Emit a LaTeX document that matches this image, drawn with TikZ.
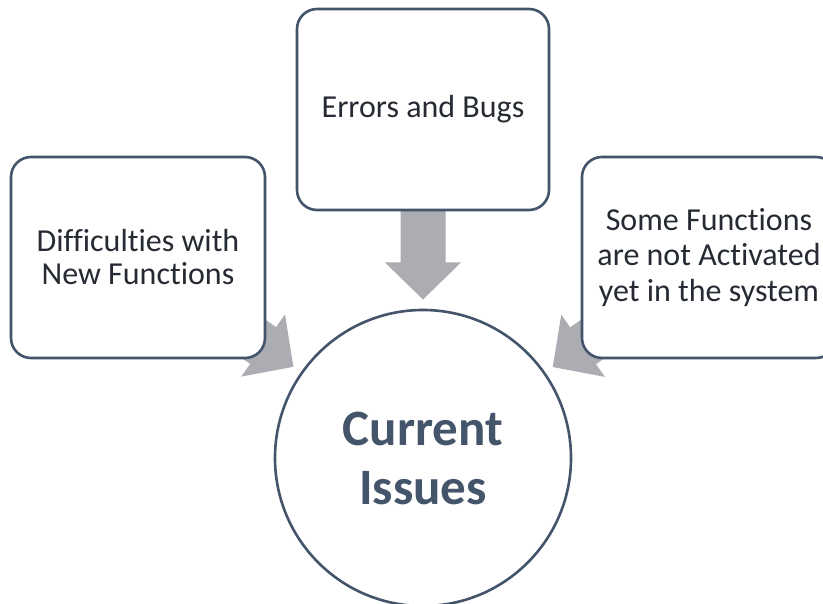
\documentclass[tikz,border=0pt]{standalone}
\usepackage{fontspec}
\setmainfont[Ligatures={NoCommon,NoContextual}]{Carlito}
\usetikzlibrary{calc}
\definecolor{edgeblue}{HTML}{44546A}
\definecolor{arrowgrey}{HTML}{ABADB3}
\definecolor{boxtext}{HTML}{262B33}
\newcommand{\blockarrow}[2]{%
  \coordinate (T) at ($(#2.center)!158.5pt!(#1.center)$);
  \coordinate (H) at ($(T)!37pt!(#1.center)$);
  \fill[arrowgrey] (T) -- ($(H)!38pt!90:(#1.center)$) -- ($(H)!22.5pt!90:(#1.center)$)
    -- ($(#1.center)!22.5pt!-90:(H)$) -- ($(#1.center)!22.5pt!90:(H)$)
    -- ($(H)!22.5pt!-90:(#1.center)$) -- ($(H)!38pt!-90:(#1.center)$) -- cycle;
}
\tikzset{
  issuebox/.style={draw=edgeblue, line width=2.6pt, fill=white, rounded corners=20pt,
    minimum width=254pt, minimum height=201pt, inner sep=0pt, align=center,
    text=boxtext, font=\fontsize{32}{33}\selectfont},
  centerdisc/.style={circle, draw=edgeblue, line width=2.6pt, fill=white,
    minimum size=296pt, inner sep=0pt, align=center, text=edgeblue,
    font=\fontsize{51}{59}\selectfont\bfseries}
}
\begin{document}
\begin{tikzpicture}[x=1pt,y=1pt]
\clip (0,0) rectangle (823,-604);
\fill[white] (0,0) rectangle (823,-604);
\coordinate (lc) at (138,-257.5);
\coordinate (tc) at (423,-109.5);
\coordinate (rc) at (709,-257.5);
\coordinate (cc) at (423,-458);
\node[centerdisc] (hub) at (cc) {Current\\Issues};
\path (lc) node[minimum size=1pt, inner sep=0pt] (lsrc) {};
\path (tc) node[minimum size=1pt, inner sep=0pt] (tsrc) {};
\path (rc) node[minimum size=1pt, inner sep=0pt] (rsrc) {};
\blockarrow{lsrc}{hub}
\blockarrow{tsrc}{hub}
\blockarrow{rsrc}{hub}
\node[issuebox] (left) at (lc) {Difficulties with\\New Functions};
\node[issuebox, minimum width=252pt] (top) at (tc) {\raisebox{-2pt}{Errors and Bugs}};
\node[issuebox, font=\fontsize{32}{35.5}\selectfont] (right) at (rc) {Some Functions\\are not Activated\\yet in the system};
\end{tikzpicture}
\end{document}
